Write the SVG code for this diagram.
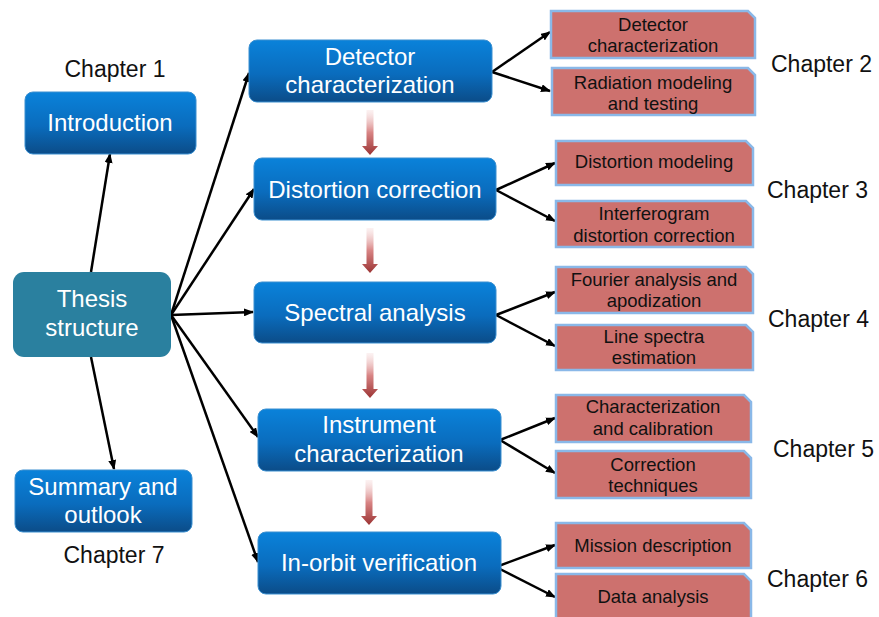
<svg xmlns="http://www.w3.org/2000/svg" width="879" height="617" viewBox="0 0 879 617">
<defs>
<linearGradient id="blueG" x1="0" y1="0" x2="0" y2="1">
<stop offset="0" stop-color="#0a82da"/>
<stop offset="0.55" stop-color="#0a6cbd"/>
<stop offset="1" stop-color="#0b4c88"/>
</linearGradient>
<linearGradient id="redArrowG" x1="0" y1="0" x2="0" y2="1">
<stop offset="0" stop-color="#f4d4d4" stop-opacity="0.3"/>
<stop offset="0.5" stop-color="#d88484"/>
<stop offset="1" stop-color="#9c3434"/>
</linearGradient>
<marker id="ah" viewBox="0 0 10 8" refX="9" refY="4" markerWidth="10" markerHeight="8" markerUnits="userSpaceOnUse" orient="auto">
<path d="M0,0 L10,4 L0,8 Z" fill="#000"/>
</marker>
<path id="downArrow" d="M-3.5,0 H3.5 V36 H8 L0,45 L-8,36 H-3.5 Z"/>
</defs>
<style>
.blue{fill:url(#blueG);stroke:#3a8fd0;stroke-width:1}
.teal{fill:#2a809f}
.red{fill:#cd716e;stroke:#8ab8e8;stroke-width:2.5}
.wt{font-family:"Liberation Sans",Arial,sans-serif;font-size:24px;fill:#fff;text-anchor:middle}
.bt{font-family:"Liberation Sans",Arial,sans-serif;font-size:18.5px;fill:#111;text-anchor:middle}
.ch{font-family:"Liberation Sans",Arial,sans-serif;font-size:23px;fill:#111}
.con{stroke:#000;stroke-width:2.5;fill:none;marker-end:url(#ah)}
.da{fill:url(#redArrowG)}
</style>
<rect width="879" height="617" fill="#fff"/>

<g id="connectors">
<line class="con" x1="171" y1="315" x2="249" y2="73"/>
<line class="con" x1="171" y1="315" x2="254" y2="189"/>
<line class="con" x1="171" y1="315" x2="253" y2="312"/>
<line class="con" x1="171" y1="315" x2="258" y2="437"/>
<line class="con" x1="171" y1="315" x2="258" y2="562"/>
<line class="con" x1="91" y1="272" x2="110" y2="154"/>
<line class="con" x1="91" y1="357" x2="114" y2="469"/>
<line class="con" x1="492" y1="72" x2="550" y2="32"/>
<line class="con" x1="492" y1="72" x2="550" y2="91"/>
<line class="con" x1="496" y1="190" x2="555" y2="163"/>
<line class="con" x1="496" y1="190" x2="555" y2="221"/>
<line class="con" x1="496" y1="315" x2="555" y2="292"/>
<line class="con" x1="496" y1="315" x2="555" y2="346"/>
<line class="con" x1="500" y1="440" x2="555" y2="418"/>
<line class="con" x1="500" y1="440" x2="555" y2="473"/>
<line class="con" x1="496" y1="567" x2="555" y2="545"/>
<line class="con" x1="496" y1="567" x2="555" y2="597"/>
</g>

<g id="flow-arrows">
<use href="#downArrow" class="da" transform="translate(370,110)"/>
<use href="#downArrow" class="da" transform="translate(370,228)"/>
<use href="#downArrow" class="da" transform="translate(370,353)"/>
<use href="#downArrow" class="da" transform="translate(369,480)"/>
</g>

<g id="thesis">
<rect class="teal" x="13" y="272" width="158" height="85" rx="11"/>
<text class="wt" x="92" y="307">Thesis</text>
<text class="wt" x="92" y="336">structure</text>
</g>
<g id="introduction">
<rect class="blue" x="25" y="92" width="171" height="62" rx="8"/>
<text class="wt" x="110" y="131">Introduction</text>
</g>
<g id="summary">
<rect class="blue" x="15" y="470" width="177" height="62" rx="8"/>
<text class="wt" x="103" y="495">Summary and</text>
<text class="wt" x="103" y="523">outlook</text>
</g>
<g id="detector">
<rect class="blue" x="249" y="40" width="243" height="62" rx="8"/>
<text class="wt" x="370" y="65">Detector</text>
<text class="wt" x="370" y="93">characterization</text>
</g>
<g id="distortion">
<rect class="blue" x="254" y="158" width="242" height="62" rx="8"/>
<text class="wt" x="375" y="198">Distortion correction</text>
</g>
<g id="spectral">
<rect class="blue" x="254" y="282" width="242" height="61" rx="8"/>
<text class="wt" x="375" y="321">Spectral analysis</text>
</g>
<g id="instrument">
<rect class="blue" x="258" y="409" width="243" height="62" rx="8"/>
<text class="wt" x="379" y="433">Instrument</text>
<text class="wt" x="379" y="462">characterization</text>
</g>
<g id="inorbit">
<rect class="blue" x="258" y="532" width="243" height="62" rx="8"/>
<text class="wt" x="379" y="571">In-orbit verification</text>
</g>

<g id="r1">
<path class="red" d="M551,11 H748 L755,18 V58 H551 Z"/>
<text class="bt" x="653" y="31">Detector</text>
<text class="bt" x="653" y="52">characterization</text>
</g>
<g id="r2">
<path class="red" d="M552,68 H748 L755,75 V115 H552 Z"/>
<text class="bt" x="653" y="89">Radiation modeling</text>
<text class="bt" x="653" y="110">and testing</text>
</g>
<g id="r3">
<path class="red" d="M556,141 H746 L753,148 V185 H556 Z"/>
<text class="bt" x="654" y="168">Distortion modeling</text>
</g>
<g id="r4">
<path class="red" d="M556,201 H746 L753,208 V247 H556 Z"/>
<text class="bt" x="654" y="220">Interferogram</text>
<text class="bt" x="654" y="242">distortion correction</text>
</g>
<g id="r5">
<path class="red" d="M556,267 H746 L753,274 V313 H556 Z"/>
<text class="bt" x="654" y="286">Fourier analysis and</text>
<text class="bt" x="654" y="307">apodization</text>
</g>
<g id="r6">
<path class="red" d="M556,325 H746 L753,332 V370 H556 Z"/>
<text class="bt" x="654" y="343">Line spectra</text>
<text class="bt" x="654" y="364">estimation</text>
</g>
<g id="r7">
<path class="red" d="M556,395 H744 L751,402 V442 H556 Z"/>
<text class="bt" x="653" y="413">Characterization</text>
<text class="bt" x="653" y="435">and calibration</text>
</g>
<g id="r8">
<path class="red" d="M556,451 H744 L751,458 V498 H556 Z"/>
<text class="bt" x="653" y="471">Correction</text>
<text class="bt" x="653" y="492">techniques</text>
</g>
<g id="r9">
<path class="red" d="M556,523 H744 L751,530 V568 H556 Z"/>
<text class="bt" x="653" y="552">Mission description</text>
</g>
<g id="r10">
<path class="red" d="M556,574 H744 L751,581 V620 H556 Z"/>
<text class="bt" x="653" y="603">Data analysis</text>
</g>

<g id="chapters">
<text class="ch" x="115" y="77" text-anchor="middle">Chapter 1</text>
<text class="ch" x="771" y="72">Chapter 2</text>
<text class="ch" x="767" y="198">Chapter 3</text>
<text class="ch" x="768" y="327">Chapter 4</text>
<text class="ch" x="773" y="457">Chapter 5</text>
<text class="ch" x="767" y="587">Chapter 6</text>
<text class="ch" x="114" y="563" text-anchor="middle">Chapter 7</text>
</g>
</svg>
